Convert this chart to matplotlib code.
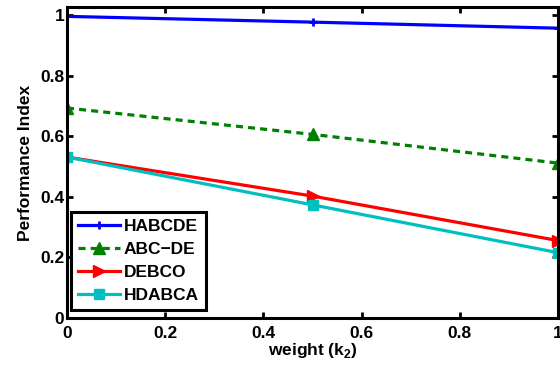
import matplotlib
matplotlib.use("Agg")
import matplotlib.pyplot as plt

weights = [0.0, 0.5, 1.0]
habcde = [0.997, 0.978, 0.958]
abc_de = [0.694, 0.607, 0.512]
debco = [0.532, 0.403, 0.256]
hdabca = [0.532, 0.374, 0.216]

x_ticks = [0, 0.2, 0.4, 0.6, 0.8, 1]
y_ticks = [0, 0.2, 0.4, 0.6, 0.8, 1]
x_tick_labels = ["0", "0.2", "0.4", "0.6", "0.8", "1"]
y_tick_labels = ["0", "0.2", "0.4", "0.6", "0.8", "1"]

FS = 12.5

plt.rcParams.update({
    "font.family": ["Liberation Sans", "DejaVu Sans"],
    "font.weight": "bold",
    "font.size": FS,
    "mathtext.fontset": "custom",
    "mathtext.rm": "Liberation Sans:bold",
    "mathtext.bf": "Liberation Sans:bold",
})

fig = plt.figure(figsize=(5.6, 3.69), dpi=100)
ax = fig.add_axes([67 / 560, 51 / 369, 491 / 560, 311 / 369])

lw = 2.3
ax.plot(weights, habcde, color="#0000ff", lw=lw, marker="+", ms=6, mew=2, label="HABCDE")
ax.plot(weights, abc_de, color="#008000", lw=lw, ls=(0, (2.2, 1.6)), marker="^", ms=9, label="ABC\u2212DE")
ax.plot(weights, debco, color="#ff0000", lw=lw, marker=">", ms=9, label="DEBCO")
ax.plot(weights, hdabca, color="#00bfbf", lw=lw, marker="s", ms=7, label="HDABCA")

ax.set_xlim(0, 1)
ax.set_ylim(0, 1.028)
ax.set_xticks(x_ticks)
ax.set_xticklabels(x_tick_labels, fontweight="bold")
ax.set_yticks(y_ticks)
ax.set_yticklabels(y_tick_labels, fontweight="bold")
ax.tick_params(direction="in", top=True, right=True, length=4, width=2, labelsize=FS)
ax.tick_params(axis="x", pad=6)
ax.tick_params(axis="y", pad=2)
for spine in ax.spines.values():
    spine.set_linewidth(2.2)
    spine.set_clip_on(False)

ax.set_xlabel("weight (k$_2$)", fontweight="bold", fontsize=FS, labelpad=0)
ax.set_ylabel("Performance Index", fontweight="bold", fontsize=FS, labelpad=5)

leg = ax.legend(
    loc="lower left",
    bbox_to_anchor=(0.008, 0.026),
    frameon=True,
    fancybox=False,
    edgecolor="black",
    framealpha=1,
    borderaxespad=0,
    borderpad=0.4,
    handlelength=2.4,
    handletextpad=0.25,
    labelspacing=0.45,
    prop={"weight": "bold", "size": FS},
)
leg.get_frame().set_linewidth(2.2)

fig.savefig("out.png", dpi=100)
